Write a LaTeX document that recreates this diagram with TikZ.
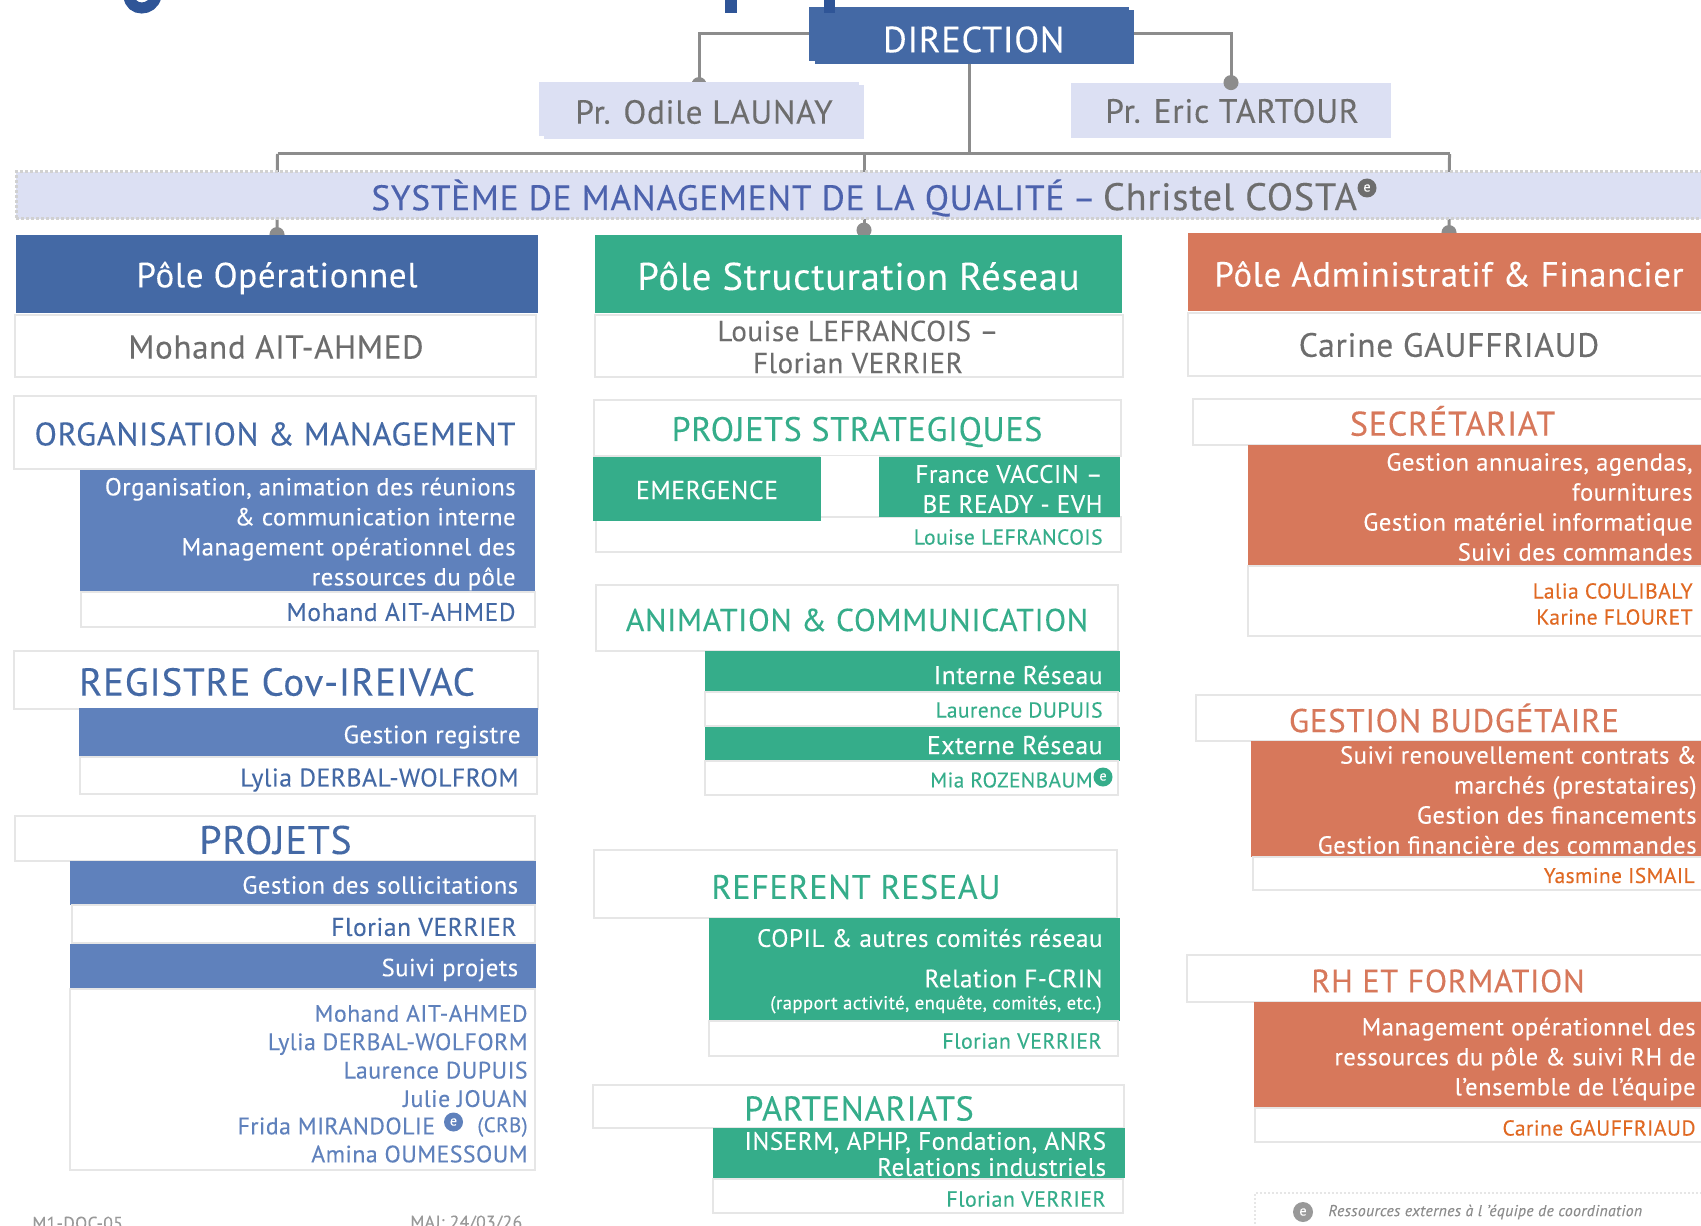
\documentclass[tikz,border=0pt]{standalone}
\usepackage{fontspec}
\setmainfont[LetterSpace=2,FakeBold=0.15]{PT Sans}
\usetikzlibrary{arrows.meta,backgrounds}
\definecolor{bl}{RGB}{68,105,165}
\definecolor{bb}{RGB}{95,129,188}
\definecolor{gn}{RGB}{53,173,138}
\definecolor{og}{RGB}{215,120,91}
\definecolor{ot}{RGB}{224,105,35}
\definecolor{lil}{RGB}{220,224,243}
\definecolor{sq}{RGB}{76,98,173}
\definecolor{nm}{RGB}{109,109,109}
\definecolor{fg}{RGB}{47,85,151}
\definecolor{lg}{RGB}{230,230,230}
\newcommand{\fsz}[1]{\fontsize{#1}{#1}\selectfont}
\tikzset{
 x=0.5pt,y=-0.5pt,
 link/.style={draw=black!45,line width=1.5pt},
 dome/.style={-{Circle[length=7.5pt]},shorten >=-3.75pt},
 head/.style={fill=#1,inner sep=0pt},
 headtxt/.style={text=white,inner sep=0pt},
 prof/.style={fill=lil,inner sep=0pt},
 proftxt/.style={text=nm,inner sep=0pt},
 wbox/.style={draw=lg,fill=white,line width=1pt},
 sect/.style={text=#1},
 band/.style={text=white,anchor=east,inner sep=0pt,align=right,font=\fontsize{12.35}{15}\selectfont},
 who/.style={text=#1,anchor=east,inner sep=0pt,align=right,font=\fontsize{12.8}{15}\selectfont},
 lst/.style={text=bb,anchor=east,inner sep=0pt,align=right,font=\fontsize{11.9}{14.2}\selectfont},
 whos/.style={text=#1,anchor=east,inner sep=0pt,align=right,font=\fontsize{10.8}{12.5}\selectfont},
 chef/.style={text=nm,align=center,inner sep=0pt},
 badge/.style={circle,fill=#1,text=white,minimum size=9.5pt,inner sep=0pt,font=\fontsize{7}{7}\selectfont},
 foot/.style={anchor=west,text=black!40,inner sep=0pt,font=\fontsize{8.8}{10}\selectfont},
}
\begin{document}
\begin{tikzpicture}
\useasboundingbox (0,0) rectangle (1701,1225);
\clip (0,0) rectangle (1701,1225);
\fill [fg] (725,0) rectangle (737,13);
\draw [fg,line width=5.5pt] (129,-4) .. controls (130,12) and (153,12) .. (156,-4);
\fill [bl] (809,7) rectangle (1129,61);
\fill [lil] (539,82) rectangle (859,136);
\node (direction) [head=bl,minimum width=159.5pt,minimum height=27pt] at (974.5,37) {};
\node (dirtxt) [headtxt,font=\fsz{18.2}] at (973.7,39.5) {DIRECTION};
\fill [fg] (824,0) rectangle (835,13);
\node (launay) [prof,minimum width=160pt,minimum height=27pt] at (704,112) {};
\node (launaytxt) [proftxt,font=\fsz{16.7}] at (704,112) {Pr. Odile LAUNAY};
\node (tartour) [prof,minimum width=160pt,minimum height=27.5pt] at (1231,110.5) {};
\node (tartourtxt) [proftxt,font=\fsz{16.8}] at (1232,111) {Pr. Eric TARTOUR};
\node (qualite) [fill=lil,draw=black!18,densely dotted,line width=1.5pt,inner sep=0pt,minimum width=855pt,minimum height=23.5pt] at (871,195.5) {};
\node (smqtxt) [anchor=west,inner sep=0pt] at (371,198) {\fsz{17.7}\textcolor{sq}{SYSTÈME DE MANAGEMENT DE LA QUALITÉ}\hspace{-1pt} \textcolor{sq}{–}\hspace{-1.5pt} \fsz{19.2}\textcolor{nm}{Christel COSTA}};
\node (eqcosta) [badge=nm] at (1367,188) {e};
\node (poleop) [head=bl,minimum width=261pt,minimum height=39pt] at (277,274) {};
\node (opttxt) [headtxt,font=\fsz{17.5}] at (277,278) {Pôle Opérationnel};
\node (polest) [head=gn,minimum width=263.5pt,minimum height=39pt] at (858.5,274) {};
\node (sttxt) [headtxt,font=\fsz{19.3}] at (858.5,276) {Pôle Structuration Réseau};
\node (poleaf) [head=og,minimum width=261pt,minimum height=39pt] at (1449,272) {};
\node (aftxt) [headtxt,font=\fsz{17.4}] at (1449,274) {Pôle Administratif \& Financier};
\coordinate (bus) at (969,154);
\coordinate (busop) at (277.5,154);
\coordinate (busst) at (864,154);
\coordinate (busaf) at (1449.5,154);
\begin{scope}[on background layer]
\draw [link,dome] (direction.west |- 0,34) -| ([xshift=-2.5pt]launay.north);
\draw [link] (bus |- direction.south) -- (bus);
\draw [link] (busop) -- (busaf);
\draw [link,dome] (busop) -- (poleop.north);
\draw [link,dome,shorten >=-1.5pt] (busst) -- (busst |- polest.north);
\draw [link,dome] (busaf) -- (poleaf.north);
\end{scope}
\draw [link,dome] (direction.east |- 0,34) -| (tartour.north);
\filldraw [wbox] (15,314.5) rectangle (536,377);
\node (chefop) [chef,font=\fsz{16.5}] at (276,347) {Mohand AIT-AHMED};
\filldraw [wbox] (595,314.5) rectangle (1123,377);
\node (chefst) [chef,font=\fontsize{14.5}{16}\selectfont] at (858,347) {Louise LEFRANCOIS –\\Florian VERRIER};
\filldraw [wbox] (1188,312.5) rectangle (1710,376);
\node (chefaf) [chef,font=\fsz{16.8}] at (1449,345) {Carine GAUFFRIAUD};
\filldraw [wbox] (14,396) rectangle (536,469);
\node (orgtit) [sect=bl,font=\fsz{16.3}] at (275,434) {ORGANISATION \& MANAGEMENT};
\fill [bb] (80,470) rectangle (535,591);
\node (orgtxt) [band] at (516,534) {Organisation, animation des réunions\\\& communication interne\\Management opérationnel des\\ressources du pôle};
\filldraw [wbox] (81,592) rectangle (535,627);
\node (orgnom) [who=bl] at (516,612) {Mohand AIT-AHMED};
\filldraw [wbox] (14,651) rectangle (538,709);
\node (regtit) [sect=bl,font=\fsz{19.5}] at (277,682) {REGISTRE Cov-IREIVAC};
\fill [bb] (79,708) rectangle (538,757);
\node (regtxt) [band,font=\fsz{12.6}] at (521,737) {Gestion registre};
\filldraw [wbox] (80,757) rectangle (537,794);
\node (regnom) [who=bl] at (519,780) {Lylia DERBAL-WOLFROM};
\filldraw [wbox] (15,816) rectangle (535,861);
\node (protit) [sect=bl,font=\fsz{19.9}] at (275.5,840) {PROJETS};
\fill [bb] (70,861) rectangle (536,905);
\node (protxt) [band] at (518.5,885) {Gestion des sollicitations};
\filldraw [wbox] (71.5,905) rectangle (535,943);
\node (pronom) [who=bl] at (517,927) {Florian VERRIER};
\fill [bb] (70,944) rectangle (536,989);
\node (suitxt) [band] at (518.5,970) {Suivi projets};
\filldraw [wbox] (70,989) rectangle (535,1170);
\node (suiun) [lst] at (528,1056) {Mohand AIT-AHMED\\Lylia DERBAL-WOLFORM\\Laurence DUPUIS\\Julie JOUAN};
\node (frida) [lst] at (435.5,1126) {Frida MIRANDOLIE};
\node (eqfrida) [badge=bb] at (453.5,1122) {e};
\node (crb) [lst,font=\fontsize{10.5}{12}\selectfont] at (528,1127) {(CRB)};
\node (amina) [lst] at (528,1154) {Amina OUMESSOUM};
\node (refdoc) [foot] at (32,1223) {M1-DOC-05};
\node (majdoc) [foot] at (410,1223) {MAJ: 24/03/26};
\filldraw [wbox] (594,400) rectangle (1121,456);
\node (strtit) [sect=gn,font=\fsz{17}] at (857,432) {PROJETS STRATEGIQUES};
\filldraw [wbox] (596,517) rectangle (1121,552);
\fill [white] (820,456) rectangle (879,516);
\filldraw [gn] (593,457) rectangle (820,520);
\fill [gn] (879,457) rectangle (1120,517);
\node (emetxt) [band,anchor=center,font=\fsz{12.9}] at (707,490) {EMERGENCE};
\node (fratxt) [band,font=\fontsize{12.6}{15}\selectfont] at (1103,489) {France VACCIN –\\BE READY - EVH};
\node (strnom) [whos=gn] at (1103,537) {Louise LEFRANCOIS};
\filldraw [wbox] (596,585) rectangle (1118,651);
\node (anitit) [sect=gn,font=\fsz{15.9}] at (857,620) {ANIMATION \& COMMUNICATION};
\fill [gn] (705,651) rectangle (1120,692);
\node (inttxt) [band,font=\fsz{12.8}] at (1103,675) {Interne Réseau};
\filldraw [wbox] (705,692) rectangle (1118,726);
\node (intnom) [whos=gn] at (1103,710) {Laurence DUPUIS};
\fill [gn] (705,727) rectangle (1120,761);
\node (exttxt) [band,font=\fsz{12.9}] at (1103,745) {Externe Réseau};
\filldraw [wbox] (705,761) rectangle (1118,795);
\node (extnom) [whos=gn,font=\fsz{10.65}] at (1093,780) {Mia ROZENBAUM};
\node (eqmia) [badge=gn] at (1103,777) {e};
\filldraw [wbox] (594,850) rectangle (1117,918);
\node (reftit) [sect=gn,font=\fsz{17}] at (856,887) {REFERENT RESEAU};
\fill [gn] (709,918) rectangle (1120,1021);
\node (reftxt) [band,font=\fsz{12.6}] at (1103,938) {COPIL \& autres comités réseau};
\node (crintxt) [band,font=\fsz{12.6}] at (1103,978.5) {Relation F-CRIN};
\node (rapport) [band,font=\fsz{9.4}] at (1102,1004.5) {(rapport activité, enquête, comités, etc.)};
\filldraw [wbox] (709,1021) rectangle (1118,1056);
\node (refnom) [whos=gn,font=\fsz{11}] at (1102,1041) {Florian VERRIER};
\filldraw [wbox] (593,1085) rectangle (1124,1128);
\node (partit) [sect=gn,font=\fsz{17.2}] at (859,1108.5) {PARTENARIATS};
\fill [gn] (713,1128) rectangle (1125,1178);
\node (partxt) [band,font=\fontsize{12.6}{13}\selectfont] at (1106.5,1154) {INSERM, APHP, Fondation, ANRS\\Relations industriels};
\filldraw [wbox] (713,1179) rectangle (1123,1213);
\node (parnom) [whos=gn,font=\fsz{11}] at (1106,1199) {Florian VERRIER};
\filldraw [wbox] (1193,399) rectangle (1710,445);
\node (sectit) [sect=og,font=\fsz{17.1}] at (1452.5,421) {SECRÉTARIAT};
\fill [og] (1247.5,445) rectangle (1710,566);
\node (sectxt) [band] at (1693,507) {Gestion annuaires, agendas,\\fournitures\\Gestion matériel informatique\\Suivi des commandes};
\filldraw [wbox] (1247.5,566) rectangle (1710,636);
\node (secnom) [whos=ot,font=\fontsize{10.8}{13}\selectfont] at (1693,604) {Lalia COULIBALY\\Karine FLOURET};
\filldraw [wbox] (1195.5,695) rectangle (1710,741);
\node (budtit) [sect=og,font=\fsz{16.5}] at (1454,718) {GESTION BUDGÉTAIRE};
\fill [og] (1251,741) rectangle (1710,857);
\node (budtxt) [band] at (1697,800) {Suivi renouvellement contrats \&\\marchés (prestataires)\\Gestion des financements\\Gestion financière des commandes};
\filldraw [wbox] (1253,857) rectangle (1710,890);
\node (budnom) [whos=ot,font=\fsz{10.7}] at (1695,875.5) {Yasmine ISMAIL};
\filldraw [wbox] (1187,955) rectangle (1710,1002);
\node (rhtit) [sect=og,font=\fsz{16.2}] at (1448,981) {RH ET FORMATION};
\fill [og] (1254,1002) rectangle (1710,1108);
\node (rhtxt) [band] at (1696,1059) {Management opérationnel des\\ressources du pôle \& suivi RH de\\l’ensemble de l’équipe};
\filldraw [wbox] (1255,1108) rectangle (1710,1142);
\node (rhnom) [whos=ot] at (1696,1128) {Carine GAUFFRIAUD};
\draw [lg,densely dotted,line width=1pt] (1255,1240) -- (1255,1193) -- (1710,1193);
\node (eqleg) [badge=black!40,minimum size=10pt] at (1303,1212) {e};
\node (legende) [anchor=west,text=black!45,inner sep=0pt,font=\fontsize{7.9}{10}\itshape] at (1328,1212) {Ressources externes à l ’équipe de coordination};
\end{tikzpicture}
\end{document}
